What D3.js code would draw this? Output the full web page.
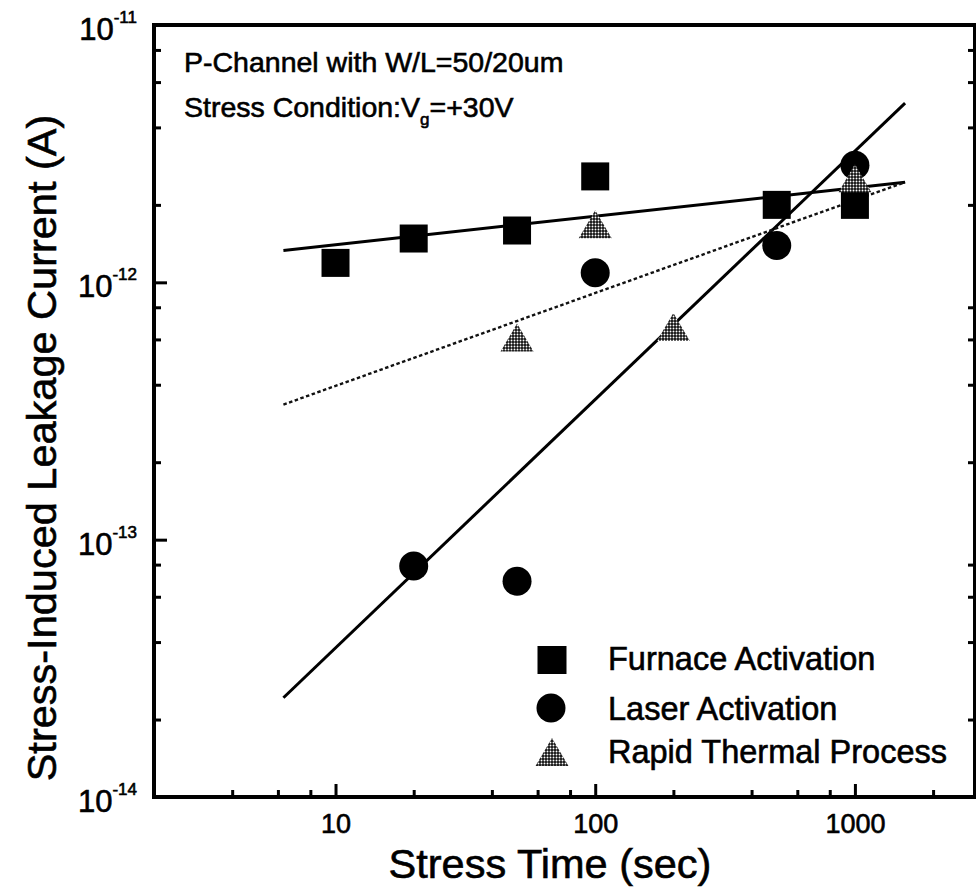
<!DOCTYPE html>
<html>
<head>
<meta charset="utf-8">
<script src="https://cdn.jsdelivr.net/npm/d3@7"></script>
<style>
  html, body { margin: 0; padding: 0; background: #fff; }
  svg { display: block; font-family: "Liberation Sans", Arial, Helvetica, sans-serif; }
  svg text { stroke: #000; stroke-width: 0.6px; }
</style>
</head>
<body>
<svg id="chart" width="976" height="895"></svg>
<script>
// ---- Data ----
const furnaceTime = [10, 20, 50, 100, 500, 1000];
const furnaceCurrent = [1.19e-12, 1.48e-12, 1.59e-12, 2.58e-12, 2.0e-12, 2.0e-12];

const laserTime = [20, 50, 100, 500, 1000];
const laserCurrent = [7.9e-14, 6.9e-14, 1.09e-12, 1.39e-12, 2.85e-12];

const rtpTime = [50, 100, 200, 1000];
const rtpCurrent = [6.1e-13, 1.68e-12, 6.7e-13, 2.54e-12];

// Fitted lines (end points)
const fitTime = [6.3, 1560];
const furnaceFit = [1.33e-12, 2.45e-12];
const laserFit = [2.43e-14, 4.97e-12];
const rtpFit = [3.35e-13, 2.45e-12];

const xTickValues = [10, 100, 1000];
const xTickLabels = ["10", "100", "1000"];
const yTickValues = [1e-11, 1e-12, 1e-13, 1e-14];
const yTickExponents = ["-11", "-12", "-13", "-14"];

const legendLabels = ["Furnace Activation", "Laser Activation", "Rapid Thermal Process"];
const annotationLine1 = "P-Channel with W/L=50/20um";
const xTitle = "Stress Time (sec)";
const yTitle = "Stress-Induced Leakage Current (A)";

// ---- Layout ----
const pLeft = 154, pRight = 975, pTop = 25, pBottom = 797;
const svg = d3.select("#chart");

const x = d3.scaleLog().domain([2, 2900]).range([pLeft, pRight]);
const y = d3.scaleLog().domain([1e-14, 1e-11]).range([pBottom, pTop]);

// pattern for triangles (dotted grey)
const defs = svg.append("defs");
const pat = defs.append("pattern").attr("id", "dots")
  .attr("width", 3).attr("height", 3).attr("patternUnits", "userSpaceOnUse");
pat.append("rect").attr("width", 3).attr("height", 3).attr("fill", "#111");
pat.append("circle").attr("cx", 1.5).attr("cy", 1.5).attr("r", 0.95).attr("fill", "#fff");

// ---- Axes (ticks inward) ----
function minorTicks(scale) {
  const [d0, d1] = scale.domain();
  const out = [];
  for (let e = Math.floor(Math.log10(d0)); e <= Math.ceil(Math.log10(d1)); e++) {
    for (const m of [2, 4, 6, 8]) {
      const v = m * Math.pow(10, e);
      if (v > d0 * 1.001 && v < d1 * 0.999) out.push(v);
    }
  }
  return out;
}

const gx = svg.append("g").attr("transform", `translate(0,${pBottom})`);
gx.call(d3.axisBottom(x).tickValues(xTickValues).tickSize(-13).tickFormat((d, i) => xTickLabels[i]));
gx.select(".domain").remove();
gx.selectAll(".tick line").attr("stroke", "#000").attr("stroke-width", 3);
gx.selectAll(".tick text").attr("font-size", 27).attr("fill", "#000")
  .attr("font-family", "Liberation Sans, Arial, sans-serif").attr("y", 17).attr("dy", "0.71em");
const gxm = svg.append("g").attr("transform", `translate(0,${pBottom})`);
gxm.call(d3.axisBottom(x).tickValues(minorTicks(x)).tickSize(-7).tickFormat(""));
gxm.select(".domain").remove();
gxm.selectAll(".tick line").attr("stroke", "#000").attr("stroke-width", 3);

const gy = svg.append("g").attr("transform", `translate(${pLeft},0)`);
gy.call(d3.axisLeft(y).tickValues(yTickValues).tickSize(-13).tickFormat(""));
gy.select(".domain").remove();
gy.selectAll(".tick line").attr("stroke", "#000").attr("stroke-width", 3);
const gym = svg.append("g").attr("transform", `translate(${pLeft},0)`);
gym.call(d3.axisLeft(y).tickValues(minorTicks(y)).tickSize(-7).tickFormat(""));
gym.select(".domain").remove();
gym.selectAll(".tick line").attr("stroke", "#000").attr("stroke-width", 3);

const gyr = svg.append("g").attr("transform", `translate(${pRight},0)`);
gyr.call(d3.axisRight(y).tickValues(minorTicks(y)).tickSize(-7).tickFormat(""));
gyr.select(".domain").remove();
gyr.selectAll(".tick line").attr("stroke", "#000").attr("stroke-width", 3);

// y tick labels 10^exp
yTickValues.forEach((v, i) => {
  const t = svg.append("text")
    .attr("x", 137).attr("y", y(v) + 15)
    .attr("text-anchor", "end").attr("font-size", 31).attr("fill", "#000");
  t.append("tspan").text("10");
  t.append("tspan").attr("dy", -17).attr("font-size", 17).text(yTickExponents[i]);
});

// frame
svg.append("rect").attr("x", pLeft).attr("y", pTop)
  .attr("width", pRight - pLeft).attr("height", pBottom - pTop)
  .attr("fill", "none").attr("stroke", "#000").attr("stroke-width", 4);

// ---- Fit lines ----
const line = d3.line().x(d => x(d[0])).y(d => y(d[1]));
svg.append("path").datum(d3.zip(fitTime, furnaceFit)).attr("d", line)
  .attr("fill", "none").attr("stroke", "#000").attr("stroke-width", 3);
svg.append("path").datum(d3.zip(fitTime, laserFit)).attr("d", line)
  .attr("fill", "none").attr("stroke", "#000").attr("stroke-width", 3);
svg.append("path").datum(d3.zip(fitTime, rtpFit)).attr("d", line)
  .attr("fill", "none").attr("stroke", "#111").attr("stroke-width", 2.4)
  .attr("stroke-dasharray", "3.5,2.5");

// ---- Markers ----
const sq = 28, cr = 14.5, tw = 33, th = 28;
function triPath(cx, cy) {
  return `M${cx},${cy - th / 2}L${cx + tw / 2},${cy + th / 2}L${cx - tw / 2},${cy + th / 2}Z`;
}
svg.append("g").selectAll("rect").data(d3.zip(furnaceTime, furnaceCurrent)).join("rect")
  .attr("x", d => x(d[0]) - sq / 2).attr("y", d => y(d[1]) - sq / 2)
  .attr("width", sq).attr("height", sq).attr("fill", "#000");
svg.append("g").selectAll("circle").data(d3.zip(laserTime, laserCurrent)).join("circle")
  .attr("cx", d => x(d[0])).attr("cy", d => y(d[1])).attr("r", cr).attr("fill", "#000");
svg.append("g").selectAll("path").data(d3.zip(rtpTime, rtpCurrent)).join("path")
  .attr("d", d => triPath(x(d[0]), y(d[1]))).attr("fill", "url(#dots)");

// ---- Legend ----
const legX = 552, legTextX = 608;
const legY = [660, 708, 752];
const legBase = [670, 720, 763];
svg.append("rect").attr("x", legX - 14.5).attr("y", legY[0] - 14).attr("width", 29).attr("height", 28).attr("fill", "#000");
svg.append("circle").attr("cx", legX - 1).attr("cy", legY[1]).attr("r", 14.5).attr("fill", "#000");
svg.append("path").attr("d", triPath(legX, legY[2])).attr("fill", "url(#dots)");
legendLabels.forEach((s, i) => {
  svg.append("text").attr("x", legTextX).attr("y", legBase[i])
    .attr("font-size", 32.5).attr("fill", "#000").text(s);
});

// ---- Annotation ----
svg.append("text").attr("x", 184).attr("y", 72).attr("font-size", 28.5).attr("fill", "#000").text(annotationLine1);
const a2 = svg.append("text").attr("x", 184).attr("y", 117).attr("font-size", 28.5).attr("fill", "#000");
a2.append("tspan").text("Stress Condition:V");
a2.append("tspan").attr("dy", 8).attr("font-size", 17).text("g");
a2.append("tspan").attr("dy", -8).text("=+30V");

// ---- Axis titles ----
svg.append("text").attr("x", 550).attr("y", 878).attr("text-anchor", "middle")
  .attr("font-size", 41.5).attr("fill", "#000").text(xTitle);
svg.append("text").attr("transform", "translate(56,448) rotate(-90)").attr("text-anchor", "middle")
  .attr("font-size", 41.5).attr("fill", "#000").text(yTitle);
</script>
</body>
</html>
